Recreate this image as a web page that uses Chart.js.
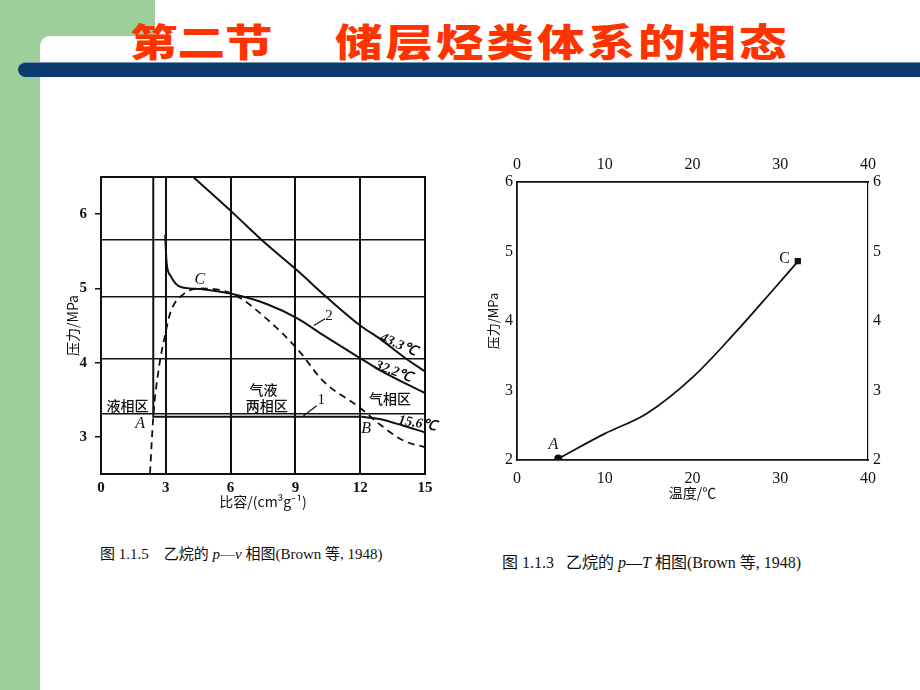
<!DOCTYPE html>
<html>
<head>
<meta charset="utf-8">
<script src="https://cdn.jsdelivr.net/npm/chart.js@4.4.1/dist/chart.umd.min.js"></script>
<style>
    body { margin: 0; width: 920px; height: 690px; background: #fff; position: relative; overflow: hidden; font-family: "Liberation Serif", "Noto Sans CJK SC", serif; }
    .green { position: absolute; left: 0; top: 0; width: 155px; height: 690px; background: #9dcf9b; }
    .sheet { position: absolute; left: 40px; top: 36px; width: 880px; height: 654px; background: #fff; border-top-left-radius: 10px; }
    .bar { position: absolute; left: 18px; top: 62px; width: 902px; height: 14px; background: #0b3b6e; border-top: 1px solid #7b95b3; border-radius: 8px 0 0 8px; }
    .title { position: absolute; top: 12px; font-family: "Noto Sans CJK SC", sans-serif; font-weight: 900; font-size: 38px; color: #ff3300; transform: scaleX(1.25); transform-origin: left top; white-space: nowrap; }
    canvas { position: absolute; }
    .cap { position: absolute; font-size: 15px; color: #111; white-space: nowrap; }
    .cap i { font-family: "Liberation Serif", serif; }
</style>
</head>
<body>
<div class="green"></div>
<div class="sheet"></div>
<div class="bar"></div>
<div class="title" style="left:130px;letter-spacing:0px">第二节</div>
<div class="title" style="left:335px;letter-spacing:2.4px">储层烃类体系的相态</div>

<canvas id="pvChart" width="400" height="360" style="left:50px;top:160px"></canvas>
<canvas id="ptChart" width="430" height="380" style="left:475px;top:140px"></canvas>

<div class="cap" style="left:100px;top:542px">图 1.1.5&nbsp;&nbsp;&nbsp; 乙烷的 <i>p</i>—<i>ν</i> 相图(Brown 等, 1948)</div>
<div class="cap" style="left:502px;top:549px;font-size:16px">图 1.1.3&nbsp;&nbsp; 乙烷的 <i>p</i>—<i>T</i> 相图(Brown 等, 1948)</div>

<script>
// p-v diagram (left)
const vTicks = [0, 3, 6, 9, 12, 15]
const pvTicks = [3, 4, 5, 6]
const pvGridP = [5.65, 4.89, 4.05, 3.31]
//
const iso433V = [4.27, 6.13, 7.6, 9.13, 10.45, 12.0, 12.92, 14.0, 15]
const iso433P = [6.5, 6.01, 5.61, 5.23, 4.88, 4.50, 4.32, 4.08, 3.88]
const iso322V = [2.97, 3.04, 3.22, 3.6, 4.12, 4.6, 6.13, 7.67, 9.13, 10.29, 12.0, 12.9, 15]
const iso322P = [5.72, 5.34, 5.17, 5.03, 5.0, 4.99, 4.92, 4.79, 4.59, 4.37, 4.06, 3.90, 3.59]
const iso156LiqV = [2.42, 2.42, 12.07]
const iso156LiqP = [6.5, 3.27, 3.27]
const iso156GasV = [12.07, 12.9, 14.0, 15]
const iso156GasP = [3.27, 3.24, 3.15, 3.06]
const envV = [2.27, 2.42, 2.68, 2.93, 3.22, 3.81, 4.6, 6.13, 7.67, 9.13, 10.29, 12.0, 12.9, 14.0, 15]
const envP = [2.51, 3.27, 3.93, 4.32, 4.68, 4.92, 5.0, 4.92, 4.59, 4.17, 3.75, 3.39, 3.17, 2.95, 2.86]
const lead1V = [9.37, 9.98]
const lead1P = [3.28, 3.42]
const lead2V = [9.86, 10.37]
const lead2P = [4.50, 4.59]

// p-T diagram (right)
const tTicks = [0, 10, 20, 30, 40]
const ptTicks = [2, 3, 4, 5, 6]
const vapT = [4.7, 10.0, 14.8, 20.1, 25.0, 29.2, 31.9]
const vapP = [2.02, 2.38, 2.67, 3.20, 3.85, 4.45, 4.84]
const pointAT = [4.7]
const pointAP = [2.02]
const pointCT = [32.0]
const pointCP = [4.86]

const ink = '#111'
const zip = (xs, ys) => xs.map((v, i) => ({ x: v, y: ys[i] }))
const setTicks = arr => scale => { scale.ticks = arr.map(v => ({ value: v })) }

// text written at data positions
const notesPlugin = {
    id: 'notes',
    afterDatasetsDraw(chart, args, opts) {
        const { ctx, scales } = chart
        const items = opts.items || []
        items.forEach(n => {
            ctx.save()
            ctx.translate(scales.x.getPixelForValue(n.x), scales.y.getPixelForValue(n.y))
            ctx.rotate((n.angle || 0) * Math.PI / 180)
            ctx.font = n.font
            ctx.fillStyle = ink
            ctx.textAlign = 'center'
            ctx.textBaseline = 'middle'
            ctx.fillText(n.text, 0, 0)
            ctx.restore()
        })
    }
}
//
const framePlugin = {
    id: 'frame',
    afterDatasetsDraw(chart, args, opts) {
        if (!opts.show) return
        const { ctx, chartArea: a } = chart
        ctx.save()
        ctx.strokeStyle = ink
        ctx.lineWidth = 2
        ctx.strokeRect(a.left, a.top, a.right - a.left, a.bottom - a.top)
        ctx.restore()
    }
}

const serif = 'Liberation Serif'
const cjk = 'Noto Sans CJK SC'
const it = `italic 16px "${serif}"`
const zh = `500 14px "${cjk}"`

function line(data, extra) {
    return Object.assign({
        data: data,
        showLine: true,
        borderColor: ink,
        borderWidth: 2,
        pointRadius: 0,
        fill: false,
        tension: 0,
        clip: 0
    }, extra || {})
}

new Chart('pvChart', {
    type: 'scatter',
    data: {
        datasets: [
            line(zip(iso433V, iso433P), { cubicInterpolationMode: 'monotone' }),
            line(zip(iso322V, iso322P), { cubicInterpolationMode: 'monotone' }),
            line(zip(iso156LiqV, iso156LiqP)),
            line(zip(iso156GasV, iso156GasP), { cubicInterpolationMode: 'monotone' }),
            line(zip(envV, envP), { cubicInterpolationMode: 'monotone', borderDash: [7, 5], borderWidth: 1.8 }),
            line(zip(lead1V, lead1P), { borderWidth: 1.2 }),
            line(zip(lead2V, lead2P), { borderWidth: 1.2 })
        ]
    },
    options: {
        responsive: false,
        animation: false,
        devicePixelRatio: 1,
        layout: { padding: { left: 0, right: 25, top: 13, bottom: 0 } },
        plugins: {
            legend: { display: false },
            tooltip: { enabled: false },
            frame: { show: true },
            notes: {
                items: [
                    { text: 'C', x: 4.58, y: 5.12, font: it },
                    { text: 'A', x: 1.81, y: 3.17, font: it },
                    { text: 'B', x: 12.27, y: 3.11, font: it },
                    { text: '2', x: 10.55, y: 4.63, font: `15px "${serif}"` },
                    { text: '1', x: 10.2, y: 3.49, font: `15px "${serif}"` },
                    { text: '43.3℃', x: 13.76, y: 4.24, angle: 24, font: `italic bold 14px "${serif}"` },
                    { text: '32.2℃', x: 13.55, y: 3.88, angle: 20, font: `italic bold 14px "${serif}"` },
                    { text: '15.6℃', x: 14.65, y: 3.18, angle: 10, font: `italic bold 14px "${serif}"` },
                    { text: '液相区', x: 1.23, y: 3.42, font: zh },
                    { text: '气液', x: 7.52, y: 3.64, font: zh },
                    { text: '两相区', x: 7.67, y: 3.42, font: zh },
                    { text: '气相区', x: 13.38, y: 3.51, font: zh }
                ]
            }
        },
        scales: {
            x: {
                type: 'linear',
                min: 0,
                max: 15,
                afterBuildTicks: setTicks(vTicks),
                afterFit: s => { s.height = 46 },
                ticks: { color: ink, padding: 5, font: { family: serif, size: 15, weight: 'bold' } },
                grid: { color: ink, lineWidth: 2, drawTicks: false },
                border: { color: ink, width: 2 },
                title: { display: true, text: '比容/(cm³g⁻¹)', color: ink, font: { family: cjk, size: 14 }, padding: { top: 0, bottom: 10 } }
            },
            y: {
                min: 2.5,
                max: 6.5,
                afterBuildTicks: setTicks(pvTicks),
                afterFit: s => { s.width = 51 },
                ticks: { color: ink, padding: 8, font: { family: serif, size: 15, weight: 'bold' } },
                grid: { drawOnChartArea: false, drawTicks: true, tickLength: 6, color: ink, lineWidth: 1.5 },
                border: { color: ink, width: 2 },
                title: { display: true, text: '压力/MPa', color: ink, font: { family: cjk, size: 14 }, padding: { top: 14, bottom: 0 } }
            },
            y2: {
                position: 'right',
                min: 2.5,
                max: 6.5,
                afterBuildTicks: setTicks(pvGridP),
                afterFit: s => { s.width = 0 },
                ticks: { display: false },
                grid: { color: ink, lineWidth: 1.6, drawTicks: false },
                border: { display: false }
            }
        }
    },
    plugins: [notesPlugin, framePlugin]
});

new Chart('ptChart', {
    type: 'scatter',
    data: {
        datasets: [
            line(zip(vapT, vapP), { cubicInterpolationMode: 'monotone', borderWidth: 1.8 }),
            line(zip(pointAT, pointAP), { showLine: false, pointRadius: 3, pointBackgroundColor: ink, pointBorderColor: ink }),
            line(zip(pointCT, pointCP), { showLine: false, pointRadius: 3, pointStyle: 'rect', pointBackgroundColor: ink, pointBorderColor: ink })
        ]
    },
    options: {
        responsive: false,
        animation: false,
        devicePixelRatio: 1,
        layout: { padding: 0 },
        plugins: {
            legend: { display: false },
            tooltip: { enabled: false },
            frame: { show: false },
            notes: {
                items: [
                    { text: 'A', x: 4.14, y: 2.22, font: it },
                    { text: 'C', x: 30.5, y: 4.9, font: `16px "${serif}"` }
                ]
            }
        },
        scales: {
            x: {
                type: 'linear',
                position: 'bottom',
                min: 0,
                max: 40,
                afterBuildTicks: setTicks(tTicks),
                afterFit: s => { s.height = 60 },
                ticks: { color: ink, padding: 9, font: { family: serif, size: 16 } },
                grid: { drawOnChartArea: false, drawTicks: false },
                border: { color: ink, width: 1.8 },
                title: { display: true, text: '温度/℃', color: ink, font: { family: cjk, size: 14 }, padding: { top: 0, bottom: 19 } }
            },
            x2: {
                type: 'linear',
                position: 'top',
                min: 0,
                max: 40,
                afterBuildTicks: setTicks(tTicks),
                afterFit: s => { s.height = 42 },
                ticks: { color: ink, padding: 8, font: { family: serif, size: 16 } },
                grid: { drawOnChartArea: false, drawTicks: false },
                border: { color: ink, width: 1.8 }
            },
            y: {
                position: 'left',
                min: 2,
                max: 6,
                afterBuildTicks: setTicks(ptTicks),
                afterFit: s => { s.width = 42 },
                ticks: { color: ink, padding: 4, font: { family: serif, size: 16 } },
                grid: { drawOnChartArea: false, drawTicks: false },
                border: { color: ink, width: 1.8 },
                title: { display: true, text: '压力/MPa', color: ink, font: { family: cjk, size: 13 }, padding: { top: 10, bottom: 0 } }
            },
            y2: {
                position: 'right',
                min: 2,
                max: 6,
                afterBuildTicks: setTicks(ptTicks),
                afterFit: s => { s.width = 37 },
                ticks: { color: ink, padding: 5, font: { family: serif, size: 16 } },
                grid: { drawOnChartArea: false, drawTicks: false },
                border: { color: ink, width: 1.2 }
            }
        }
    },
    plugins: [notesPlugin, framePlugin]
});
</script>
</body>
</html>
